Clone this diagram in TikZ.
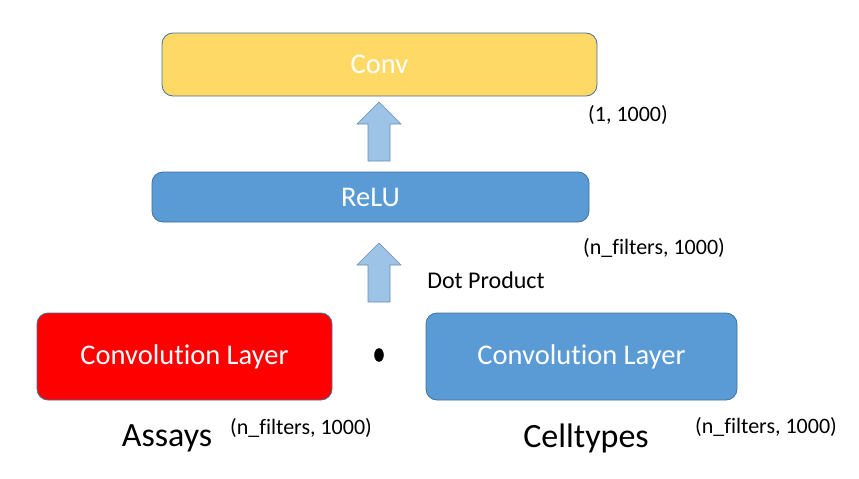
\documentclass[tikz,border=0pt]{standalone}
\usepackage{fontspec}
\setmainfont{Carlito}[Ligatures=NoCommon]
\usetikzlibrary{shapes.geometric}
\definecolor{boxyellow}{HTML}{FFD966}
\definecolor{boxblue}{HTML}{5B9BD5}
\definecolor{boxred}{HTML}{FF0000}
\definecolor{edgeblue}{HTML}{41719C}
\definecolor{arrowfill}{HTML}{9DC3E6}
\begin{document}
\begin{tikzpicture}[x=1pt,y=-1pt,
  blk/.style={draw=edgeblue, line width=0.8pt, rounded corners=11pt, inner sep=0pt,
    text=white, font=\fontsize{28.5}{32}\selectfont},
  lbl/.style={inner sep=0pt, font=\fontsize{22}{26}\selectfont},
  biglbl/.style={inner sep=0pt, font=\fontsize{34}{40}\selectfont},
  barrow/.style={draw=edgeblue!80, fill=arrowfill, line width=0.6pt, line join=miter},
]
\useasboundingbox (0,0) rectangle (859,479);
\node[blk, fill=boxyellow, minimum width=435pt, minimum height=63pt] (conv) at (379.5,64.5) {Conv};
\node[blk, fill=boxblue, minimum width=437pt, minimum height=50pt] (relu) at (370.5,197) {ReLU};
\node[blk, fill=boxred, minimum width=295pt, minimum height=87pt] (assay) at (184.5,356.5) {Convolution Layer};
\node[blk, fill=boxblue, minimum width=311pt, minimum height=87pt] (cell) at (581.5,356.5) {Convolution Layer};
% block arrows
\coordinate (a1) at (379,102);
\coordinate (a2) at (379,243);
\foreach \c in {a1,a2}{
  \draw[barrow] (\c) -- ++(22,22) -- ++(-11,0) -- ++(0,37) -- ++(-22,0) -- ++(0,-37) -- ++(-11,0) -- cycle;
}
\node[draw=black, fill=black, ellipse, minimum width=9pt, minimum height=13pt, inner sep=0pt] (dot) at (379,355) {};
\node[lbl] (s1) at (628,115) {(1, 1000)};
\node[lbl] (s2) at (654,248) {(n\_filters, 1000)};
\node[lbl, font=\fontsize{24}{28}\selectfont] (dp) at (486,280) {Dot Product};
\node[biglbl] (assays) at (167,438) {Assays};
\node[lbl] (s3) at (301,428) {(n\_filters, 1000)};
\node[biglbl] (celltypes) at (586,438) {Celltypes};
\node[lbl] (s4) at (766,427) {(n\_filters, 1000)};
\end{tikzpicture}
\end{document}
